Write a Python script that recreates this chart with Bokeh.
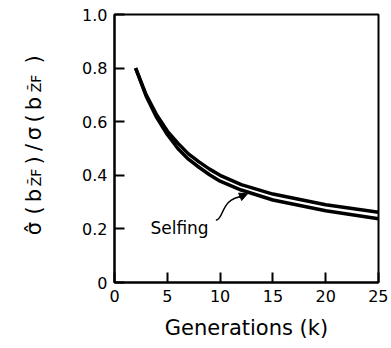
from bokeh.plotting import figure
from bokeh.models import Label, Arrow, NormalHead, FixedTicker
from bokeh.layouts import row
from bokeh.embed import file_html
from bokeh.resources import INLINE
import math

# data
k = [2, 3, 4, 5, 6, 7, 8, 9, 10, 12, 15, 20, 25]
upper = [0.80, 0.70, 0.625, 0.565, 0.52, 0.48, 0.45, 0.423, 0.40, 0.365, 0.33, 0.29, 0.262]
selfing = [0.80, 0.695, 0.615, 0.552, 0.50, 0.46, 0.43, 0.402, 0.378, 0.345, 0.308, 0.268, 0.238]
x_ticks = [0, 5, 10, 15, 20, 25]
y_ticks = [0, 0.2, 0.4, 0.6, 0.8, 1.0]
y_tick_labels = {0: "0", 0.2: "0.2", 0.4: "0.4", 0.6: "0.6", 0.8: "0.8", 1.0: "1.0"}
# y-axis title, piece by piece (True = subscript)
y_label_parts = [("σ̂", False), ("(", False), ("b", False), ("Z̄F", True), (")", False),
                 ("/", False), ("σ", False), ("(", False), ("b", False), ("Z̄F", True),
                 (")", False)]

FONT = "DejaVu Sans"
LW = 50            # width of the side strip that carries the y-axis title
FL, FT, FW, FH = 114, 14, 264, 268
TOTAL_H = 344

p = figure(frame_width=FW, frame_height=FH, x_range=(0, 25), y_range=(0, 1.0),
           output_backend="svg", toolbar_location=None,
           min_border_left=FL - LW, min_border_right=10, min_border_top=FT,
           min_border_bottom=TOTAL_H - FT - FH)
p.grid.visible = False
p.background_fill_color = "white"
p.border_fill_color = "white"
p.outline_line_color = "black"
p.outline_line_width = 2
p.outline_line_alpha = 1

for ax in (p.xaxis[0], p.yaxis[0]):
    ax.axis_line_color = "black"
    ax.axis_line_width = 2
    ax.major_tick_in = 10
    ax.major_tick_out = 0
    ax.major_tick_line_width = 2
    ax.major_tick_line_color = "black"
    ax.minor_tick_line_color = None
    ax.major_label_text_font = FONT
    ax.major_label_text_font_size = "16px"
    ax.major_label_text_color = "black"

p.xaxis.ticker = FixedTicker(ticks=x_ticks)
p.yaxis.ticker = FixedTicker(ticks=y_ticks)
p.yaxis.major_label_overrides = y_tick_labels
p.xaxis.major_label_standoff = 7
p.yaxis.major_label_standoff = 7

p.xaxis.axis_label = "Generations (k)"
p.xaxis.axis_label_text_font = FONT
p.xaxis.axis_label_text_font_size = "21px"
p.xaxis.axis_label_text_font_style = "normal"
p.xaxis.axis_label_text_color = "black"
p.xaxis.axis_label_standoff = 11

p.line(k, upper, line_color="black", line_width=3.5)
p.line(k, selfing, line_color="black", line_width=3.5)

# Selfing annotation
p.add_layout(Label(x=3.4, y=0.203, text="Selfing", text_font=FONT, text_font_size="17px",
                   text_color="black", text_baseline="alphabetic"))
p.bezier(x0=[9.6], y0=[0.232], x1=[12.2], y1=[0.322], cx0=[10.4], cy0=[0.235],
         cx1=[10.0], cy1=[0.315], line_color="black", line_width=1.5)
p.add_layout(Arrow(x_start=11.8, y_start=0.318, x_end=12.6, y_end=0.331,
                   end=NormalHead(size=8, fill_color="black", line_color="black"),
                   line_color="black", line_width=1.5))

# side strip with the rotated y-axis title; its frame is aligned with the main frame,
# so its ranges are set to page pixel coordinates (y downward)
lab = figure(frame_width=LW, frame_height=FH, x_range=(0, LW), y_range=(FT + FH, FT),
             output_backend="svg", toolbar_location=None,
             min_border_left=0, min_border_right=0,
             min_border_top=FT, min_border_bottom=TOTAL_H - FT - FH)
lab.axis.visible = False
lab.grid.visible = False
lab.outline_line_color = None
lab.background_fill_color = "white"
lab.border_fill_color = "white"

part_centers = [228, 210, 195, 177, 160, 147, 133, 118, 103, 83, 59]
for (txt, sub), cy in zip(y_label_parts, part_centers):
    lab.add_layout(Label(x=35 if sub else 33, y=cy, text=txt, angle=math.pi / 2,
                         text_font=FONT, text_font_size="14px" if sub else "21px",
                         text_color="black", text_align="center",
                         text_baseline="alphabetic"))

layout = row(lab, p, spacing=0)
open("out.html", "w").write(file_html(layout, INLINE))
